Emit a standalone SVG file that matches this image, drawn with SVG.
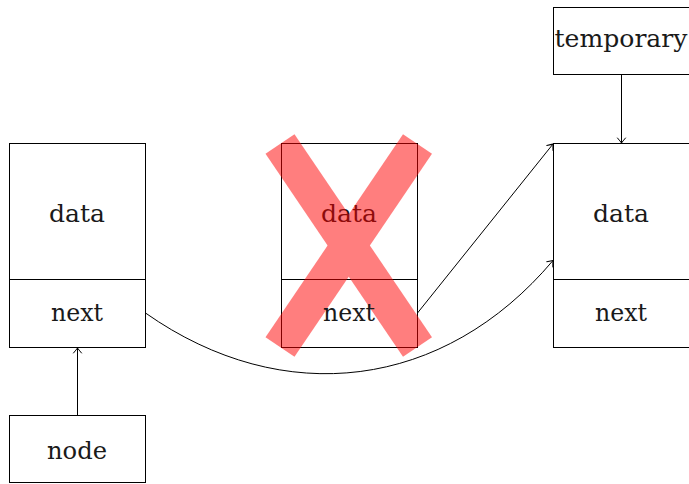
<svg xmlns="http://www.w3.org/2000/svg" width="689" height="484" viewBox="0 0 689 484">
<style>
.box{fill:none;stroke:#000;stroke-width:1}
.lbl{font-family:'DejaVu Serif','Liberation Serif',serif;font-size:24px;fill:#1a1a1a;text-anchor:middle}
.con{fill:none;stroke:#000;stroke-width:1}
</style>
<defs>
<marker id="arr" markerUnits="userSpaceOnUse" markerWidth="14" markerHeight="14" refX="0" refY="0" viewBox="-7 -7 14 14" orient="auto">
<path d="M -5,-4 Q -1.5,-1 0,0 Q -1.5,1 -5,4" fill="none" stroke="#000" stroke-width="1" stroke-linecap="round"/>
</marker>
</defs>
<rect width="689" height="484" fill="#fff"/>
<g id="node1">
<rect class="box" x="9.5" y="143.5" width="136" height="136"/>
<rect class="box" x="9.5" y="279.5" width="136" height="68"/>
<text class="lbl" x="77" y="222" textLength="56" lengthAdjust="spacingAndGlyphs">data</text>
<text class="lbl" x="77" y="321" textLength="52" lengthAdjust="spacingAndGlyphs">next</text>
</g>
<g id="node2">
<rect class="box" x="281.5" y="143.5" width="136" height="136"/>
<rect class="box" x="281.5" y="279.5" width="136" height="68"/>
<text class="lbl" x="349" y="222" textLength="56" lengthAdjust="spacingAndGlyphs">data</text>
</g>
<g id="cross" opacity="0.5">
<line x1="280" y1="144" x2="417.5" y2="347" stroke="#ff0000" stroke-width="35"/>
<line x1="417.5" y1="144" x2="280" y2="347" stroke="#ff0000" stroke-width="35"/>
</g>
<g id="node2next">
<text class="lbl" x="349" y="321" textLength="52" lengthAdjust="spacingAndGlyphs">next</text>
</g>
<g id="node3">
<rect class="box" x="553.5" y="143.5" width="140" height="136"/>
<rect class="box" x="553.5" y="279.5" width="140" height="68"/>
<text class="lbl" x="621" y="222" textLength="56" lengthAdjust="spacingAndGlyphs">data</text>
<text class="lbl" x="621" y="321" textLength="52" lengthAdjust="spacingAndGlyphs">next</text>
</g>
<g id="temporary">
<rect class="box" x="553.5" y="7.5" width="140" height="67"/>
<text class="lbl" x="621" y="47" textLength="133" lengthAdjust="spacingAndGlyphs">temporary</text>
</g>
<g id="node">
<rect class="box" x="9.5" y="415.5" width="136" height="67"/>
<text class="lbl" x="77" y="459" textLength="60" lengthAdjust="spacingAndGlyphs">node</text>
</g>
<g id="connectors">
<line class="con" x1="77.5" y1="415" x2="77.5" y2="348" marker-end="url(#arr)"/>
<line class="con" x1="621.5" y1="75" x2="621.5" y2="143" marker-end="url(#arr)"/>
<line class="con" x1="417.5" y1="313" x2="553" y2="144" marker-end="url(#arr)"/>
<path class="con" d="M 145.5,313 C 283.4,410 444.3,389.5 553,260.5" marker-end="url(#arr)"/>
</g>
</svg>
